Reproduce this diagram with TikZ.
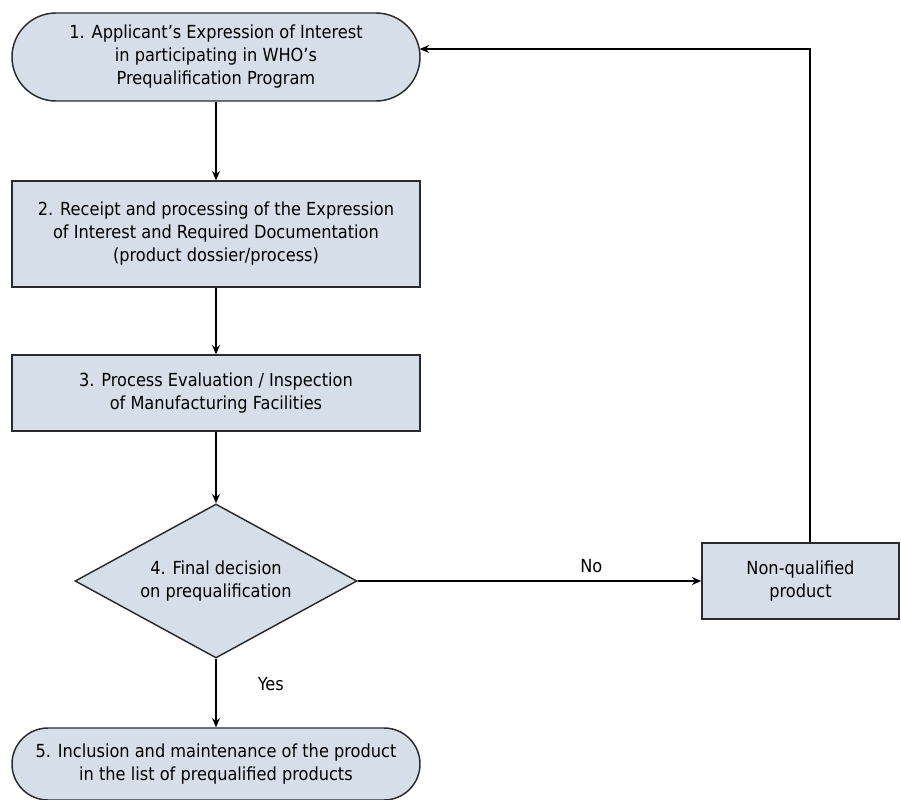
\documentclass[tikz,border=0pt]{standalone}
\usepackage{fontspec}
\setmainfont{DejaVu Sans Condensed}
\usepackage{xcolor}
\usepackage{tikz}
\usetikzlibrary{calc,positioning,arrows.meta,shapes.geometric}
\definecolor{boxfill}{HTML}{D6DFE9}
\definecolor{boxline}{HTML}{2B2B2B}
\tikzset{
  base/.style={draw=boxline,fill=boxfill,line width=1.1pt,align=center,
               inner sep=0pt,font=\fontsize{13.5}{17.25}\selectfont},
  term/.style={base,rectangle,rounded corners=33pt},
  proc/.style={base,rectangle},
  decision/.style={base,diamond,aspect=1.83},
  arr/.style={line width=0.9pt,-{Stealth[length=7pt,width=6pt]}},
  lbl/.style={inner sep=0pt,font=\fontsize{13.5}{15}\selectfont},
}

\begin{document}
\begin{tikzpicture}[x=0.75pt,y=-0.75pt]
  \useasboundingbox (0,0) rectangle (901,800);
  \node[term,minimum width=306pt,minimum height=66pt] (n1) at (216,57)
    {1. Applicant's Expression of Interest\\in participating in WHO's\\Prequalification Program};
  \node[proc,minimum width=306pt,minimum height=79.5pt] (n2) at (216,234)
    {2. Receipt and processing of the Expression\\of Interest and Required Documentation\\(product dossier/process)};
  \node[proc,minimum width=306pt,minimum height=57pt] (n3) at (216,393)
    {3. Process Evaluation / Inspection\\of Manufacturing Facilities};
  \node[decision,minimum width=211.5pt,minimum height=115.5pt] (n4) at (216,581)
    {4. Final decision\\on prequalification};
  \node[proc,minimum width=147.75pt,minimum height=57pt] (nq) at (800.5,581)
    {Non-qualified\\product};
  \node[term,minimum width=306pt,minimum height=54pt,rounded corners=27pt] (n5) at (216,764)
    {5. Inclusion and maintenance of the product\\in the list of prequalified products};
  \coordinate (ret) at (810,49);
  \draw[arr] (n1) -- (n2);
  \draw[arr] (n2) -- (n3);
  \draw[arr] (n3) -- (n4);
  \draw[arr] (n4) -- node[lbl,pos=0.37,right=31pt] {Yes} (n5);
  \draw[arr] (n4) -- node[lbl,pos=0.68,above=6pt] {No} (nq);
  \draw[arr] (nq.north -| ret) -- (ret) -- ($(ret -| n1.east)+(-1,0)$);
\end{tikzpicture}
\end{document}
